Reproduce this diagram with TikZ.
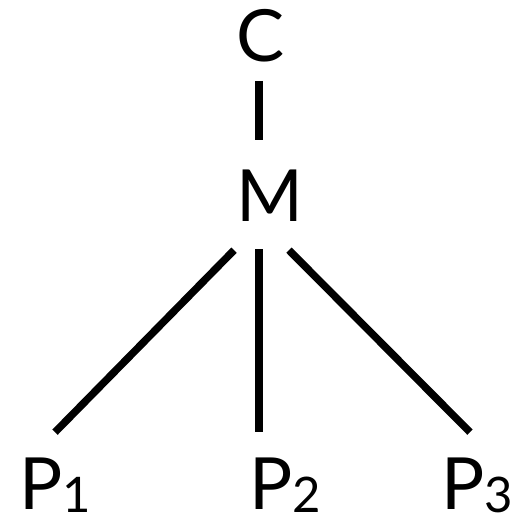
\documentclass[tikz,border=0pt]{standalone}
\usepackage{fontspec}
\setmainfont{Lato}
\usepackage{tikz}
\usetikzlibrary{positioning, calc}

\newcommand{\sub}[1]{\raisebox{-3pt}{\fontsize{49}{49}\selectfont #1}}

\begin{document}
\begin{tikzpicture}[x=1pt, y=1pt, lbl/.style={inner sep=0pt, anchor=base west, font=\fontsize{72}{72}\selectfont}, edge/.style={line width=7.5pt}]
  \useasboundingbox (0,0) rectangle (509,521);
  \node[lbl] (C) at (236,459) {C};
  \node[lbl] (M) at (236,299) {M};
  \node[lbl] (P1) at (19,11) {P\sub{1}};
  \node[lbl] (P2) at (249,11) {P\sub{2}};
  \node[lbl] (P3) at (441,11) {P\sub{3}};
  \draw[edge] ([shift={(23,-18)}]C.south west) -- ([shift={(23,30)}]M.north west);
  \draw[edge] ([shift={(-2,-28)}]M.south west) -- ([shift={(36,26)}]P1.north west);
  \draw[edge] ([shift={(23,-27)}]M.south west) -- ([shift={(10,26)}]P2.north west);
  \draw[edge] ([shift={(53,-28)}]M.south west) -- ([shift={(29,26)}]P3.north west);
\end{tikzpicture}
\end{document}
